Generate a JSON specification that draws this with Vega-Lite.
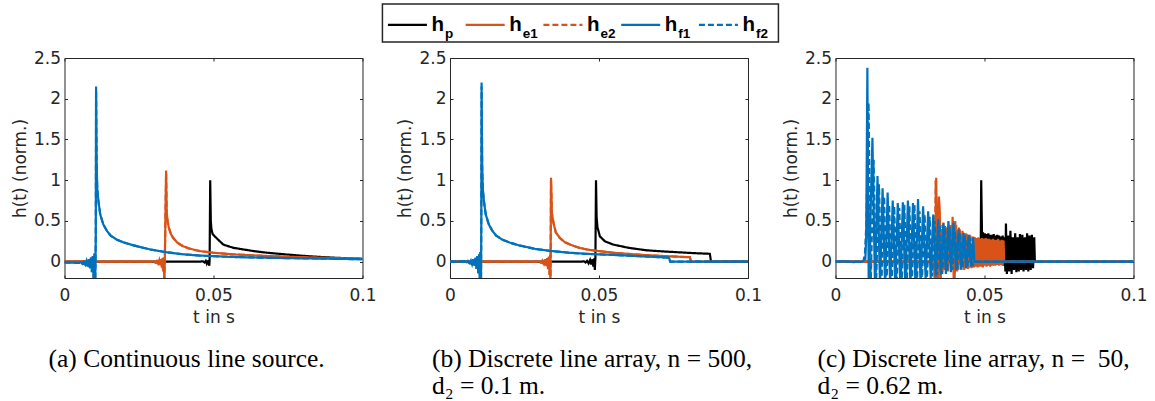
{
  "$schema": "https://vega.github.io/schema/vega-lite/v6.json",
  "background": "white",
  "padding": {"left": 10, "top": 3, "right": 0, "bottom": 0},
  "datasets": {
    "legend": [
      {"series": "hp", "sub": "p"},
      {"series": "he1", "sub": "e1"},
      {"series": "he2", "sub": "e2"},
      {"series": "hf1", "sub": "f1"},
      {"series": "hf2", "sub": "f2"}
    ],
    "curves": [
      {"panel":"a","series":"hp","t":0,"h":0},{"panel":"a","series":"hp","t":0.03,"h":0},{"panel":"a","series":"hp","t":0.045,"h":0},{"panel":"a","series":"hp","t":0.0465,"h":0.005},{"panel":"a","series":"hp","t":0.047,"h":-0.01},{"panel":"a","series":"hp","t":0.0474,"h":0.01},{"panel":"a","series":"hp","t":0.0477,"h":-0.02},{"panel":"a","series":"hp","t":0.048,"h":0.015},{"panel":"a","series":"hp","t":0.0482,"h":-0.035},{"panel":"a","series":"hp","t":0.0484,"h":0.02},{"panel":"a","series":"hp","t":0.0486,"h":-0.05},{"panel":"a","series":"hp","t":0.0487,"h":0.02},{"panel":"a","series":"hp","t":0.0489,"h":1.0},{"panel":"a","series":"hp","t":0.0491,"h":0.5},{"panel":"a","series":"hp","t":0.0493,"h":0.4},{"panel":"a","series":"hp","t":0.0497,"h":0.34},{"panel":"a","series":"hp","t":0.051,"h":0.29},{"panel":"a","series":"hp","t":0.0533,"h":0.21},{"panel":"a","series":"hp","t":0.0567,"h":0.17},{"panel":"a","series":"hp","t":0.0635,"h":0.13},{"panel":"a","series":"hp","t":0.068,"h":0.11},{"panel":"a","series":"hp","t":0.074,"h":0.09},{"panel":"a","series":"hp","t":0.079,"h":0.075},{"panel":"a","series":"hp","t":0.085,"h":0.06},{"panel":"a","series":"hp","t":0.09,"h":0.05},{"panel":"a","series":"hp","t":0.095,"h":0.042},{"panel":"a","series":"hp","t":0.1,"h":0.035},
      {"panel":"a","series":"he1","t":0,"h":0},{"panel":"a","series":"he1","t":0.029,"h":0},{"panel":"a","series":"he1","t":0.03,"h":0.005},{"panel":"a","series":"he1","t":0.0305,"h":-0.01},{"panel":"a","series":"he1","t":0.031,"h":0.01},{"panel":"a","series":"he1","t":0.0314,"h":-0.02},{"panel":"a","series":"he1","t":0.0318,"h":0.02},{"panel":"a","series":"he1","t":0.0321,"h":-0.04},{"panel":"a","series":"he1","t":0.0324,"h":0.03},{"panel":"a","series":"he1","t":0.0327,"h":-0.07},{"panel":"a","series":"he1","t":0.0329,"h":0.04},{"panel":"a","series":"he1","t":0.0331,"h":-0.12},{"panel":"a","series":"he1","t":0.0333,"h":0.05},{"panel":"a","series":"he1","t":0.0335,"h":-0.25},{"panel":"a","series":"he1","t":0.0337,"h":0.1},{"panel":"a","series":"he1","t":0.0341,"h":1.12},{"panel":"a","series":"he1","t":0.0343,"h":0.6},{"panel":"a","series":"he1","t":0.0346,"h":0.5},{"panel":"a","series":"he1","t":0.035,"h":0.42},{"panel":"a","series":"he1","t":0.0357,"h":0.34},{"panel":"a","series":"he1","t":0.0365,"h":0.29},{"panel":"a","series":"he1","t":0.038,"h":0.23},{"panel":"a","series":"he1","t":0.0398,"h":0.19},{"panel":"a","series":"he1","t":0.042,"h":0.16},{"panel":"a","series":"he1","t":0.0454,"h":0.13},{"panel":"a","series":"he1","t":0.05,"h":0.11},{"panel":"a","series":"he1","t":0.0567,"h":0.09},{"panel":"a","series":"he1","t":0.063,"h":0.078},{"panel":"a","series":"he1","t":0.068,"h":0.07},{"panel":"a","series":"he1","t":0.075,"h":0.06},{"panel":"a","series":"he1","t":0.082,"h":0.052},{"panel":"a","series":"he1","t":0.09,"h":0.044},{"panel":"a","series":"he1","t":0.1,"h":0.035},
      {"panel":"a","series":"he2","t":0,"h":0},{"panel":"a","series":"he2","t":0.029,"h":0},{"panel":"a","series":"he2","t":0.0305,"h":-0.01},{"panel":"a","series":"he2","t":0.0314,"h":-0.02},{"panel":"a","series":"he2","t":0.0321,"h":-0.04},{"panel":"a","series":"he2","t":0.0324,"h":0.03},{"panel":"a","series":"he2","t":0.0327,"h":-0.07},{"panel":"a","series":"he2","t":0.0329,"h":0.04},{"panel":"a","series":"he2","t":0.0331,"h":-0.12},{"panel":"a","series":"he2","t":0.0333,"h":0.05},{"panel":"a","series":"he2","t":0.0335,"h":-0.25},{"panel":"a","series":"he2","t":0.0337,"h":0.1},{"panel":"a","series":"he2","t":0.0341,"h":1.08},{"panel":"a","series":"he2","t":0.0343,"h":0.58},{"panel":"a","series":"he2","t":0.0346,"h":0.5},{"panel":"a","series":"he2","t":0.035,"h":0.42},{"panel":"a","series":"he2","t":0.0357,"h":0.34},{"panel":"a","series":"he2","t":0.0365,"h":0.29},{"panel":"a","series":"he2","t":0.038,"h":0.23},{"panel":"a","series":"he2","t":0.0398,"h":0.19},{"panel":"a","series":"he2","t":0.042,"h":0.16},{"panel":"a","series":"he2","t":0.0454,"h":0.13},{"panel":"a","series":"he2","t":0.05,"h":0.11},{"panel":"a","series":"he2","t":0.0567,"h":0.09},{"panel":"a","series":"he2","t":0.068,"h":0.07},{"panel":"a","series":"he2","t":0.082,"h":0.052},{"panel":"a","series":"he2","t":0.1,"h":0.035},
      {"panel":"a","series":"hf1","t":0,"h":-0.01},{"panel":"a","series":"hf1","t":0.003,"h":-0.012},{"panel":"a","series":"hf1","t":0.005,"h":-0.015},{"panel":"a","series":"hf1","t":0.0055,"h":-0.005},{"panel":"a","series":"hf1","t":0.006,"h":-0.025},{"panel":"a","series":"hf1","t":0.0065,"h":0},{"panel":"a","series":"hf1","t":0.007,"h":-0.035},{"panel":"a","series":"hf1","t":0.0074,"h":0.01},{"panel":"a","series":"hf1","t":0.0078,"h":-0.05},{"panel":"a","series":"hf1","t":0.0082,"h":0.03},{"panel":"a","series":"hf1","t":0.0086,"h":-0.08},{"panel":"a","series":"hf1","t":0.0089,"h":0.05},{"panel":"a","series":"hf1","t":0.0092,"h":-0.13},{"panel":"a","series":"hf1","t":0.0095,"h":0.07},{"panel":"a","series":"hf1","t":0.0098,"h":-0.22},{"panel":"a","series":"hf1","t":0.0101,"h":0.1},{"panel":"a","series":"hf1","t":0.0103,"h":-0.3},{"panel":"a","series":"hf1","t":0.0105,"h":0.3},{"panel":"a","series":"hf1","t":0.0106,"h":2.15},{"panel":"a","series":"hf1","t":0.0108,"h":1.2},{"panel":"a","series":"hf1","t":0.011,"h":0.9},{"panel":"a","series":"hf1","t":0.0114,"h":0.74},{"panel":"a","series":"hf1","t":0.012,"h":0.58},{"panel":"a","series":"hf1","t":0.013,"h":0.46},{"panel":"a","series":"hf1","t":0.0142,"h":0.38},{"panel":"a","series":"hf1","t":0.0155,"h":0.32},{"panel":"a","series":"hf1","t":0.0176,"h":0.27},{"panel":"a","series":"hf1","t":0.02,"h":0.235},{"panel":"a","series":"hf1","t":0.0232,"h":0.2},{"panel":"a","series":"hf1","t":0.026,"h":0.175},{"panel":"a","series":"hf1","t":0.0288,"h":0.15},{"panel":"a","series":"hf1","t":0.0344,"h":0.115},{"panel":"a","series":"hf1","t":0.04,"h":0.09},{"panel":"a","series":"hf1","t":0.0455,"h":0.075},{"panel":"a","series":"hf1","t":0.0567,"h":0.058},{"panel":"a","series":"hf1","t":0.068,"h":0.048},{"panel":"a","series":"hf1","t":0.079,"h":0.042},{"panel":"a","series":"hf1","t":0.09,"h":0.036},{"panel":"a","series":"hf1","t":0.1,"h":0.03},
      {"panel":"a","series":"hf2","t":0,"h":-0.01},{"panel":"a","series":"hf2","t":0.005,"h":-0.015},{"panel":"a","series":"hf2","t":0.006,"h":-0.025},{"panel":"a","series":"hf2","t":0.007,"h":-0.035},{"panel":"a","series":"hf2","t":0.0078,"h":-0.05},{"panel":"a","series":"hf2","t":0.0082,"h":0.03},{"panel":"a","series":"hf2","t":0.0086,"h":-0.08},{"panel":"a","series":"hf2","t":0.0089,"h":0.05},{"panel":"a","series":"hf2","t":0.0092,"h":-0.13},{"panel":"a","series":"hf2","t":0.0095,"h":0.07},{"panel":"a","series":"hf2","t":0.0098,"h":-0.22},{"panel":"a","series":"hf2","t":0.0101,"h":0.1},{"panel":"a","series":"hf2","t":0.0103,"h":-0.3},{"panel":"a","series":"hf2","t":0.0105,"h":0.3},{"panel":"a","series":"hf2","t":0.0106,"h":2.1},{"panel":"a","series":"hf2","t":0.0108,"h":1.15},{"panel":"a","series":"hf2","t":0.011,"h":0.88},{"panel":"a","series":"hf2","t":0.0114,"h":0.74},{"panel":"a","series":"hf2","t":0.012,"h":0.58},{"panel":"a","series":"hf2","t":0.013,"h":0.46},{"panel":"a","series":"hf2","t":0.0142,"h":0.38},{"panel":"a","series":"hf2","t":0.0155,"h":0.32},{"panel":"a","series":"hf2","t":0.0176,"h":0.27},{"panel":"a","series":"hf2","t":0.02,"h":0.235},{"panel":"a","series":"hf2","t":0.0232,"h":0.2},{"panel":"a","series":"hf2","t":0.026,"h":0.175},{"panel":"a","series":"hf2","t":0.0288,"h":0.15},{"panel":"a","series":"hf2","t":0.0344,"h":0.115},{"panel":"a","series":"hf2","t":0.04,"h":0.09},{"panel":"a","series":"hf2","t":0.0455,"h":0.075},{"panel":"a","series":"hf2","t":0.0567,"h":0.058},{"panel":"a","series":"hf2","t":0.068,"h":0.048},{"panel":"a","series":"hf2","t":0.079,"h":0.042},{"panel":"a","series":"hf2","t":0.09,"h":0.036},{"panel":"a","series":"hf2","t":0.1,"h":0.03},

      {"panel":"b","series":"hp","t":0,"h":0},{"panel":"b","series":"hp","t":0.03,"h":0},{"panel":"b","series":"hp","t":0.044,"h":0},{"panel":"b","series":"hp","t":0.045,"h":0.005},{"panel":"b","series":"hp","t":0.0455,"h":-0.01},{"panel":"b","series":"hp","t":0.046,"h":0.01},{"panel":"b","series":"hp","t":0.0465,"h":-0.02},{"panel":"b","series":"hp","t":0.047,"h":0.02},{"panel":"b","series":"hp","t":0.0474,"h":-0.035},{"panel":"b","series":"hp","t":0.0478,"h":0.03},{"panel":"b","series":"hp","t":0.0481,"h":-0.06},{"panel":"b","series":"hp","t":0.0484,"h":0.04},{"panel":"b","series":"hp","t":0.0486,"h":-0.1},{"panel":"b","series":"hp","t":0.0488,"h":0.05},{"panel":"b","series":"hp","t":0.049,"h":1.0},{"panel":"b","series":"hp","t":0.0492,"h":0.55},{"panel":"b","series":"hp","t":0.0495,"h":0.42},{"panel":"b","series":"hp","t":0.0498,"h":0.38},{"panel":"b","series":"hp","t":0.0503,"h":0.31},{"panel":"b","series":"hp","t":0.052,"h":0.25},{"panel":"b","series":"hp","t":0.0548,"h":0.21},{"panel":"b","series":"hp","t":0.06,"h":0.17},{"panel":"b","series":"hp","t":0.0659,"h":0.14},{"panel":"b","series":"hp","t":0.072,"h":0.125},{"panel":"b","series":"hp","t":0.077,"h":0.115},{"panel":"b","series":"hp","t":0.082,"h":0.105},{"panel":"b","series":"hp","t":0.0872,"h":0.097},{"panel":"b","series":"hp","t":0.0876,"h":0},{"panel":"b","series":"hp","t":0.1,"h":0},
      {"panel":"b","series":"he1","t":0,"h":0},{"panel":"b","series":"he1","t":0.029,"h":0},{"panel":"b","series":"he1","t":0.03,"h":0.005},{"panel":"b","series":"he1","t":0.0305,"h":-0.01},{"panel":"b","series":"he1","t":0.031,"h":0.015},{"panel":"b","series":"he1","t":0.0315,"h":-0.025},{"panel":"b","series":"he1","t":0.0319,"h":0.03},{"panel":"b","series":"he1","t":0.0323,"h":-0.05},{"panel":"b","series":"he1","t":0.0326,"h":0.045},{"panel":"b","series":"he1","t":0.0329,"h":-0.09},{"panel":"b","series":"he1","t":0.0332,"h":0.06},{"panel":"b","series":"he1","t":0.0334,"h":-0.16},{"panel":"b","series":"he1","t":0.0336,"h":0.08},{"panel":"b","series":"he1","t":0.0337,"h":-0.3},{"panel":"b","series":"he1","t":0.0338,"h":0.2},{"panel":"b","series":"he1","t":0.0339,"h":1.03},{"panel":"b","series":"he1","t":0.0342,"h":0.6},{"panel":"b","series":"he1","t":0.0347,"h":0.48},{"panel":"b","series":"he1","t":0.0355,"h":0.36},{"panel":"b","series":"he1","t":0.0369,"h":0.29},{"panel":"b","series":"he1","t":0.0385,"h":0.24},{"panel":"b","series":"he1","t":0.0403,"h":0.21},{"panel":"b","series":"he1","t":0.043,"h":0.175},{"panel":"b","series":"he1","t":0.0459,"h":0.15},{"panel":"b","series":"he1","t":0.05,"h":0.13},{"panel":"b","series":"he1","t":0.0548,"h":0.11},{"panel":"b","series":"he1","t":0.06,"h":0.095},{"panel":"b","series":"he1","t":0.066,"h":0.08},{"panel":"b","series":"he1","t":0.0715,"h":0.07},{"panel":"b","series":"he1","t":0.0772,"h":0.06},{"panel":"b","series":"he1","t":0.0805,"h":0.055},{"panel":"b","series":"he1","t":0.0809,"h":0},{"panel":"b","series":"he1","t":0.1,"h":0},
      {"panel":"b","series":"he2","t":0,"h":0},{"panel":"b","series":"he2","t":0.029,"h":0},{"panel":"b","series":"he2","t":0.0305,"h":-0.01},{"panel":"b","series":"he2","t":0.0315,"h":-0.025},{"panel":"b","series":"he2","t":0.0323,"h":-0.05},{"panel":"b","series":"he2","t":0.0326,"h":0.045},{"panel":"b","series":"he2","t":0.0329,"h":-0.09},{"panel":"b","series":"he2","t":0.0332,"h":0.06},{"panel":"b","series":"he2","t":0.0334,"h":-0.16},{"panel":"b","series":"he2","t":0.0336,"h":0.08},{"panel":"b","series":"he2","t":0.0337,"h":-0.3},{"panel":"b","series":"he2","t":0.0338,"h":0.2},{"panel":"b","series":"he2","t":0.0339,"h":1.0},{"panel":"b","series":"he2","t":0.0342,"h":0.58},{"panel":"b","series":"he2","t":0.0347,"h":0.48},{"panel":"b","series":"he2","t":0.0355,"h":0.36},{"panel":"b","series":"he2","t":0.0369,"h":0.29},{"panel":"b","series":"he2","t":0.0385,"h":0.24},{"panel":"b","series":"he2","t":0.0403,"h":0.21},{"panel":"b","series":"he2","t":0.043,"h":0.175},{"panel":"b","series":"he2","t":0.0459,"h":0.15},{"panel":"b","series":"he2","t":0.05,"h":0.13},{"panel":"b","series":"he2","t":0.0548,"h":0.11},{"panel":"b","series":"he2","t":0.06,"h":0.095},{"panel":"b","series":"he2","t":0.066,"h":0.08},{"panel":"b","series":"he2","t":0.0715,"h":0.07},{"panel":"b","series":"he2","t":0.0772,"h":0.06},{"panel":"b","series":"he2","t":0.0805,"h":0.055},{"panel":"b","series":"he2","t":0.0809,"h":0},{"panel":"b","series":"he2","t":0.1,"h":0},
      {"panel":"b","series":"hf1","t":0,"h":0},{"panel":"b","series":"hf1","t":0.004,"h":0},{"panel":"b","series":"hf1","t":0.005,"h":0.005},{"panel":"b","series":"hf1","t":0.0055,"h":-0.005},{"panel":"b","series":"hf1","t":0.006,"h":0.01},{"panel":"b","series":"hf1","t":0.0065,"h":-0.015},{"panel":"b","series":"hf1","t":0.007,"h":0.015},{"panel":"b","series":"hf1","t":0.0074,"h":-0.03},{"panel":"b","series":"hf1","t":0.0078,"h":0.03},{"panel":"b","series":"hf1","t":0.0082,"h":-0.05},{"panel":"b","series":"hf1","t":0.0086,"h":0.05},{"panel":"b","series":"hf1","t":0.0089,"h":-0.09},{"panel":"b","series":"hf1","t":0.0092,"h":0.07},{"panel":"b","series":"hf1","t":0.0095,"h":-0.14},{"panel":"b","series":"hf1","t":0.0098,"h":0.09},{"panel":"b","series":"hf1","t":0.01,"h":-0.22},{"panel":"b","series":"hf1","t":0.0102,"h":0.12},{"panel":"b","series":"hf1","t":0.0104,"h":-0.3},{"panel":"b","series":"hf1","t":0.0105,"h":0.4},{"panel":"b","series":"hf1","t":0.0106,"h":2.2},{"panel":"b","series":"hf1","t":0.0108,"h":1.2},{"panel":"b","series":"hf1","t":0.011,"h":0.9},{"panel":"b","series":"hf1","t":0.0114,"h":0.74},{"panel":"b","series":"hf1","t":0.012,"h":0.58},{"panel":"b","series":"hf1","t":0.013,"h":0.46},{"panel":"b","series":"hf1","t":0.0142,"h":0.38},{"panel":"b","series":"hf1","t":0.0155,"h":0.32},{"panel":"b","series":"hf1","t":0.0176,"h":0.27},{"panel":"b","series":"hf1","t":0.02,"h":0.235},{"panel":"b","series":"hf1","t":0.0232,"h":0.2},{"panel":"b","series":"hf1","t":0.026,"h":0.178},{"panel":"b","series":"hf1","t":0.0288,"h":0.155},{"panel":"b","series":"hf1","t":0.0344,"h":0.13},{"panel":"b","series":"hf1","t":0.04,"h":0.11},{"panel":"b","series":"hf1","t":0.0455,"h":0.097},{"panel":"b","series":"hf1","t":0.0548,"h":0.083},{"panel":"b","series":"hf1","t":0.065,"h":0.065},{"panel":"b","series":"hf1","t":0.0735,"h":0.05},{"panel":"b","series":"hf1","t":0.0739,"h":0},{"panel":"b","series":"hf1","t":0.1,"h":0},
      {"panel":"b","series":"hf2","t":0,"h":0},{"panel":"b","series":"hf2","t":0.005,"h":0.005},{"panel":"b","series":"hf2","t":0.0065,"h":-0.015},{"panel":"b","series":"hf2","t":0.0074,"h":-0.03},{"panel":"b","series":"hf2","t":0.0078,"h":0.03},{"panel":"b","series":"hf2","t":0.0082,"h":-0.05},{"panel":"b","series":"hf2","t":0.0086,"h":0.05},{"panel":"b","series":"hf2","t":0.0089,"h":-0.09},{"panel":"b","series":"hf2","t":0.0092,"h":0.07},{"panel":"b","series":"hf2","t":0.0095,"h":-0.14},{"panel":"b","series":"hf2","t":0.0098,"h":0.09},{"panel":"b","series":"hf2","t":0.01,"h":-0.22},{"panel":"b","series":"hf2","t":0.0102,"h":0.12},{"panel":"b","series":"hf2","t":0.0104,"h":-0.3},{"panel":"b","series":"hf2","t":0.0105,"h":0.4},{"panel":"b","series":"hf2","t":0.0106,"h":2.15},{"panel":"b","series":"hf2","t":0.0108,"h":1.15},{"panel":"b","series":"hf2","t":0.011,"h":0.88},{"panel":"b","series":"hf2","t":0.0114,"h":0.74},{"panel":"b","series":"hf2","t":0.012,"h":0.58},{"panel":"b","series":"hf2","t":0.013,"h":0.46},{"panel":"b","series":"hf2","t":0.0142,"h":0.38},{"panel":"b","series":"hf2","t":0.0155,"h":0.32},{"panel":"b","series":"hf2","t":0.0176,"h":0.27},{"panel":"b","series":"hf2","t":0.02,"h":0.235},{"panel":"b","series":"hf2","t":0.0232,"h":0.2},{"panel":"b","series":"hf2","t":0.026,"h":0.178},{"panel":"b","series":"hf2","t":0.0288,"h":0.155},{"panel":"b","series":"hf2","t":0.0344,"h":0.13},{"panel":"b","series":"hf2","t":0.04,"h":0.11},{"panel":"b","series":"hf2","t":0.0455,"h":0.097},{"panel":"b","series":"hf2","t":0.0548,"h":0.083},{"panel":"b","series":"hf2","t":0.065,"h":0.065},{"panel":"b","series":"hf2","t":0.0735,"h":0.05},{"panel":"b","series":"hf2","t":0.0739,"h":0},{"panel":"b","series":"hf2","t":0.1,"h":0},

      {"panel":"c","series":"hp","t":0,"h":0},{"panel":"c","series":"hp","t":0.04,"h":0},{"panel":"c","series":"hp","t":0.048,"h":0},{"panel":"c","series":"hp","t":0.0484,"h":0.03},{"panel":"c","series":"hp","t":0.0487,"h":-0.03},{"panel":"c","series":"hp","t":0.0489,"h":1.0},{"panel":"c","series":"hp","t":0.0492,"h":0.25},{"panel":"c","series":"hp","t":0.0495,"h":0.36},{"panel":"c","series":"hp","t":0.0498,"h":0.05},{"panel":"c","series":"hp","t":0.0501,"h":0.35},{"panel":"c","series":"hp","t":0.0504,"h":0.05},{"panel":"c","series":"hp","t":0.0507,"h":0.34},{"panel":"c","series":"hp","t":0.051,"h":0.05},{"panel":"c","series":"hp","t":0.0513,"h":0.35},{"panel":"c","series":"hp","t":0.0516,"h":0.05},{"panel":"c","series":"hp","t":0.0519,"h":0.33},{"panel":"c","series":"hp","t":0.0522,"h":0.04},{"panel":"c","series":"hp","t":0.0525,"h":0.33},{"panel":"c","series":"hp","t":0.0528,"h":0.04},{"panel":"c","series":"hp","t":0.0531,"h":0.34},{"panel":"c","series":"hp","t":0.0534,"h":0.03},{"panel":"c","series":"hp","t":0.0537,"h":0.32},{"panel":"c","series":"hp","t":0.054,"h":0.03},{"panel":"c","series":"hp","t":0.0543,"h":0.33},{"panel":"c","series":"hp","t":0.0546,"h":0.02},{"panel":"c","series":"hp","t":0.0549,"h":0.32},{"panel":"c","series":"hp","t":0.0552,"h":0},{"panel":"c","series":"hp","t":0.0555,"h":0.31},{"panel":"c","series":"hp","t":0.0558,"h":-0.02},{"panel":"c","series":"hp","t":0.0561,"h":0.32},{"panel":"c","series":"hp","t":0.0564,"h":-0.05},{"panel":"c","series":"hp","t":0.0567,"h":0.3},{"panel":"c","series":"hp","t":0.057,"h":-0.12},{"panel":"c","series":"hp","t":0.0572,"h":0.47},{"panel":"c","series":"hp","t":0.0575,"h":-0.15},{"panel":"c","series":"hp","t":0.0579,"h":0.32},{"panel":"c","series":"hp","t":0.0583,"h":-0.12},{"panel":"c","series":"hp","t":0.0587,"h":0.38},{"panel":"c","series":"hp","t":0.0591,"h":-0.15},{"panel":"c","series":"hp","t":0.0595,"h":0.3},{"panel":"c","series":"hp","t":0.0599,"h":-0.1},{"panel":"c","series":"hp","t":0.0603,"h":0.35},{"panel":"c","series":"hp","t":0.0607,"h":-0.13},{"panel":"c","series":"hp","t":0.0611,"h":0.3},{"panel":"c","series":"hp","t":0.0615,"h":-0.12},{"panel":"c","series":"hp","t":0.0619,"h":0.34},{"panel":"c","series":"hp","t":0.0623,"h":-0.1},{"panel":"c","series":"hp","t":0.0627,"h":0.33},{"panel":"c","series":"hp","t":0.0631,"h":-0.12},{"panel":"c","series":"hp","t":0.0635,"h":0.3},{"panel":"c","series":"hp","t":0.0639,"h":-0.1},{"panel":"c","series":"hp","t":0.0643,"h":0.35},{"panel":"c","series":"hp","t":0.0647,"h":-0.12},{"panel":"c","series":"hp","t":0.0651,"h":0.32},{"panel":"c","series":"hp","t":0.0655,"h":-0.1},{"panel":"c","series":"hp","t":0.0659,"h":0.33},{"panel":"c","series":"hp","t":0.0663,"h":-0.08},{"panel":"c","series":"hp","t":0.0667,"h":0.3},{"panel":"c","series":"hp","t":0.0669,"h":0},{"panel":"c","series":"hp","t":0.1,"h":0},
      {"panel":"c","series":"he1","t":0,"h":0},{"panel":"c","series":"he1","t":0.031,"h":0},{"panel":"c","series":"he1","t":0.032,"h":0.005},{"panel":"c","series":"he1","t":0.0326,"h":-0.02},{"panel":"c","series":"he1","t":0.033,"h":0.05},{"panel":"c","series":"he1","t":0.0333,"h":-0.3},{"panel":"c","series":"he1","t":0.0336,"h":0.3},{"panel":"c","series":"he1","t":0.0338,"h":1.03},{"panel":"c","series":"he1","t":0.0341,"h":0.2},{"panel":"c","series":"he1","t":0.0344,"h":-0.3},{"panel":"c","series":"he1","t":0.0347,"h":0.8},{"panel":"c","series":"he1","t":0.035,"h":0.62},{"panel":"c","series":"he1","t":0.0353,"h":-0.2},{"panel":"c","series":"he1","t":0.0356,"h":0.4},{"panel":"c","series":"he1","t":0.0359,"h":-0.12},{"panel":"c","series":"he1","t":0.0362,"h":0.48},{"panel":"c","series":"he1","t":0.0366,"h":-0.1},{"panel":"c","series":"he1","t":0.037,"h":0.38},{"panel":"c","series":"he1","t":0.0374,"h":0.42},{"panel":"c","series":"he1","t":0.0378,"h":-0.12},{"panel":"c","series":"he1","t":0.0382,"h":0.35},{"panel":"c","series":"he1","t":0.0386,"h":0.45},{"panel":"c","series":"he1","t":0.0389,"h":-0.05},{"panel":"c","series":"he1","t":0.0393,"h":0.55},{"panel":"c","series":"he1","t":0.0397,"h":-0.3},{"panel":"c","series":"he1","t":0.0402,"h":0.5},{"panel":"c","series":"he1","t":0.0408,"h":-0.12},{"panel":"c","series":"he1","t":0.0414,"h":0.42},{"panel":"c","series":"he1","t":0.042,"h":-0.1},{"panel":"c","series":"he1","t":0.0426,"h":0.38},{"panel":"c","series":"he1","t":0.0432,"h":-0.1},{"panel":"c","series":"he1","t":0.0438,"h":0.35},{"panel":"c","series":"he1","t":0.0444,"h":-0.09},{"panel":"c","series":"he1","t":0.045,"h":0.33},{"panel":"c","series":"he1","t":0.0456,"h":-0.08},{"panel":"c","series":"he1","t":0.0462,"h":0.31},{"panel":"c","series":"he1","t":0.0465,"h":-0.07},{"panel":"c","series":"he1","t":0.0468,"h":0.3},{"panel":"c","series":"he1","t":0.0471,"h":-0.06},{"panel":"c","series":"he1","t":0.0474,"h":0.29},{"panel":"c","series":"he1","t":0.0477,"h":-0.07},{"panel":"c","series":"he1","t":0.048,"h":0.3},{"panel":"c","series":"he1","t":0.0483,"h":-0.06},{"panel":"c","series":"he1","t":0.0486,"h":0.28},{"panel":"c","series":"he1","t":0.0489,"h":-0.06},{"panel":"c","series":"he1","t":0.0492,"h":0.29},{"panel":"c","series":"he1","t":0.0495,"h":-0.07},{"panel":"c","series":"he1","t":0.0498,"h":0.28},{"panel":"c","series":"he1","t":0.0501,"h":-0.05},{"panel":"c","series":"he1","t":0.0504,"h":0.29},{"panel":"c","series":"he1","t":0.0507,"h":-0.06},{"panel":"c","series":"he1","t":0.051,"h":0.28},{"panel":"c","series":"he1","t":0.0513,"h":-0.05},{"panel":"c","series":"he1","t":0.0516,"h":0.28},{"panel":"c","series":"he1","t":0.0519,"h":-0.06},{"panel":"c","series":"he1","t":0.0522,"h":0.27},{"panel":"c","series":"he1","t":0.0525,"h":-0.05},{"panel":"c","series":"he1","t":0.0528,"h":0.28},{"panel":"c","series":"he1","t":0.0531,"h":-0.05},{"panel":"c","series":"he1","t":0.0534,"h":0.27},{"panel":"c","series":"he1","t":0.0537,"h":-0.05},{"panel":"c","series":"he1","t":0.054,"h":0.27},{"panel":"c","series":"he1","t":0.0543,"h":-0.04},{"panel":"c","series":"he1","t":0.0546,"h":0.28},{"panel":"c","series":"he1","t":0.0549,"h":-0.05},{"panel":"c","series":"he1","t":0.0552,"h":0.26},{"panel":"c","series":"he1","t":0.0555,"h":-0.04},{"panel":"c","series":"he1","t":0.0558,"h":0.27},{"panel":"c","series":"he1","t":0.0561,"h":-0.05},{"panel":"c","series":"he1","t":0.0564,"h":0.26},{"panel":"c","series":"he1","t":0.0566,"h":0},{"panel":"c","series":"he1","t":0.1,"h":0},
      {"panel":"c","series":"he2","t":0,"h":0},{"panel":"c","series":"he2","t":0.032,"h":0},{"panel":"c","series":"he2","t":0.0333,"h":-0.1},{"panel":"c","series":"he2","t":0.0336,"h":1.0},{"panel":"c","series":"he2","t":0.034,"h":-0.3},{"panel":"c","series":"he2","t":0.0347,"h":0.75},{"panel":"c","series":"he2","t":0.0352,"h":-0.2},{"panel":"c","series":"he2","t":0.0359,"h":0.45},{"panel":"c","series":"he2","t":0.0365,"h":-0.1},{"panel":"c","series":"he2","t":0.0371,"h":0.4},{"panel":"c","series":"he2","t":0.0377,"h":-0.1},{"panel":"c","series":"he2","t":0.0383,"h":0.42},{"panel":"c","series":"he2","t":0.0389,"h":-0.1},{"panel":"c","series":"he2","t":0.0395,"h":0.5},{"panel":"c","series":"he2","t":0.04,"h":-0.2},{"panel":"c","series":"he2","t":0.0405,"h":0.45},{"panel":"c","series":"he2","t":0.0411,"h":-0.1},{"panel":"c","series":"he2","t":0.0417,"h":0.4},{"panel":"c","series":"he2","t":0.0423,"h":-0.1},{"panel":"c","series":"he2","t":0.0429,"h":0.36},{"panel":"c","series":"he2","t":0.0435,"h":-0.09},{"panel":"c","series":"he2","t":0.0441,"h":0.34},{"panel":"c","series":"he2","t":0.0447,"h":-0.08},{"panel":"c","series":"he2","t":0.0453,"h":0.32},{"panel":"c","series":"he2","t":0.0459,"h":-0.07},{"panel":"c","series":"he2","t":0.0465,"h":0.3},{"panel":"c","series":"he2","t":0.047,"h":-0.05},{"panel":"c","series":"he2","t":0.0476,"h":0.28},{"panel":"c","series":"he2","t":0.0482,"h":-0.05},{"panel":"c","series":"he2","t":0.0488,"h":0.28},{"panel":"c","series":"he2","t":0.0494,"h":-0.05},{"panel":"c","series":"he2","t":0.05,"h":0.27},{"panel":"c","series":"he2","t":0.0506,"h":-0.05},{"panel":"c","series":"he2","t":0.0512,"h":0.27},{"panel":"c","series":"he2","t":0.0518,"h":-0.05},{"panel":"c","series":"he2","t":0.0524,"h":0.27},{"panel":"c","series":"he2","t":0.053,"h":-0.04},{"panel":"c","series":"he2","t":0.0536,"h":0.26},{"panel":"c","series":"he2","t":0.0542,"h":-0.04},{"panel":"c","series":"he2","t":0.0548,"h":0.26},{"panel":"c","series":"he2","t":0.0554,"h":-0.04},{"panel":"c","series":"he2","t":0.056,"h":0.26},{"panel":"c","series":"he2","t":0.0566,"h":0},{"panel":"c","series":"he2","t":0.1,"h":0},
      {"panel":"c","series":"hf1","t":0,"h":0},{"panel":"c","series":"hf1","t":0.003,"h":0.005},{"panel":"c","series":"hf1","t":0.006,"h":-0.005},{"panel":"c","series":"hf1","t":0.009,"h":0},{"panel":"c","series":"hf1","t":0.0094,"h":0.01},{"panel":"c","series":"hf1","t":0.0097,"h":0.06},{"panel":"c","series":"hf1","t":0.01,"h":0.02},{"panel":"c","series":"hf1","t":0.0103,"h":0.3},{"panel":"c","series":"hf1","t":0.0107,"h":2.38},{"panel":"c","series":"hf1","t":0.01115,"h":-0.3},{"panel":"c","series":"hf1","t":0.0124,"h":1.52},{"panel":"c","series":"hf1","t":0.01325,"h":-0.3},{"panel":"c","series":"hf1","t":0.0141,"h":1.05},{"panel":"c","series":"hf1","t":0.01495,"h":-0.3},{"panel":"c","series":"hf1","t":0.0158,"h":0.9},{"panel":"c","series":"hf1","t":0.01665,"h":-0.3},{"panel":"c","series":"hf1","t":0.0175,"h":0.85},{"panel":"c","series":"hf1","t":0.01835,"h":-0.3},{"panel":"c","series":"hf1","t":0.0192,"h":0.75},{"panel":"c","series":"hf1","t":0.02005,"h":-0.3},{"panel":"c","series":"hf1","t":0.0209,"h":0.72},{"panel":"c","series":"hf1","t":0.02175,"h":-0.3},{"panel":"c","series":"hf1","t":0.0226,"h":0.73},{"panel":"c","series":"hf1","t":0.02345,"h":-0.3},{"panel":"c","series":"hf1","t":0.0243,"h":0.75},{"panel":"c","series":"hf1","t":0.02515,"h":-0.3},{"panel":"c","series":"hf1","t":0.026,"h":0.72},{"panel":"c","series":"hf1","t":0.02685,"h":-0.3},{"panel":"c","series":"hf1","t":0.0277,"h":0.77},{"panel":"c","series":"hf1","t":0.02855,"h":-0.28},{"panel":"c","series":"hf1","t":0.0294,"h":0.68},{"panel":"c","series":"hf1","t":0.03025,"h":-0.22},{"panel":"c","series":"hf1","t":0.0311,"h":0.62},{"panel":"c","series":"hf1","t":0.03195,"h":-0.2},{"panel":"c","series":"hf1","t":0.0328,"h":0.58},{"panel":"c","series":"hf1","t":0.03365,"h":-0.18},{"panel":"c","series":"hf1","t":0.0345,"h":0.52},{"panel":"c","series":"hf1","t":0.03535,"h":-0.16},{"panel":"c","series":"hf1","t":0.0362,"h":0.47},{"panel":"c","series":"hf1","t":0.03705,"h":-0.15},{"panel":"c","series":"hf1","t":0.0379,"h":0.5},{"panel":"c","series":"hf1","t":0.03875,"h":-0.13},{"panel":"c","series":"hf1","t":0.0396,"h":0.48},{"panel":"c","series":"hf1","t":0.04045,"h":-0.1},{"panel":"c","series":"hf1","t":0.0413,"h":0.4},{"panel":"c","series":"hf1","t":0.04215,"h":-0.09},{"panel":"c","series":"hf1","t":0.043,"h":0.35},{"panel":"c","series":"hf1","t":0.04385,"h":-0.08},{"panel":"c","series":"hf1","t":0.0447,"h":0.33},{"panel":"c","series":"hf1","t":0.04545,"h":-0.06},{"panel":"c","series":"hf1","t":0.0462,"h":0.3},{"panel":"c","series":"hf1","t":0.0466,"h":0},{"panel":"c","series":"hf1","t":0.07,"h":0},{"panel":"c","series":"hf1","t":0.1,"h":0},
      {"panel":"c","series":"hf2","t":0,"h":0},{"panel":"c","series":"hf2","t":0.009,"h":0},{"panel":"c","series":"hf2","t":0.0098,"h":0.03},{"panel":"c","series":"hf2","t":0.0104,"h":0.5},{"panel":"c","series":"hf2","t":0.0111,"h":1.95},{"panel":"c","series":"hf2","t":0.0118,"h":-0.3},{"panel":"c","series":"hf2","t":0.0128,"h":1.25},{"panel":"c","series":"hf2","t":0.0136,"h":-0.3},{"panel":"c","series":"hf2","t":0.0146,"h":0.95},{"panel":"c","series":"hf2","t":0.0154,"h":-0.3},{"panel":"c","series":"hf2","t":0.0163,"h":0.8},{"panel":"c","series":"hf2","t":0.0171,"h":-0.3},{"panel":"c","series":"hf2","t":0.018,"h":0.7},{"panel":"c","series":"hf2","t":0.0188,"h":-0.3},{"panel":"c","series":"hf2","t":0.0197,"h":0.68},{"panel":"c","series":"hf2","t":0.0205,"h":-0.3},{"panel":"c","series":"hf2","t":0.0214,"h":0.66},{"panel":"c","series":"hf2","t":0.0222,"h":-0.3},{"panel":"c","series":"hf2","t":0.0231,"h":0.7},{"panel":"c","series":"hf2","t":0.0239,"h":-0.3},{"panel":"c","series":"hf2","t":0.0248,"h":0.68},{"panel":"c","series":"hf2","t":0.0256,"h":-0.3},{"panel":"c","series":"hf2","t":0.0265,"h":0.7},{"panel":"c","series":"hf2","t":0.0273,"h":-0.3},{"panel":"c","series":"hf2","t":0.0282,"h":0.62},{"panel":"c","series":"hf2","t":0.029,"h":-0.25},{"panel":"c","series":"hf2","t":0.0299,"h":0.58},{"panel":"c","series":"hf2","t":0.0307,"h":-0.2},{"panel":"c","series":"hf2","t":0.0316,"h":0.55},{"panel":"c","series":"hf2","t":0.0324,"h":-0.18},{"panel":"c","series":"hf2","t":0.0333,"h":0.5},{"panel":"c","series":"hf2","t":0.0341,"h":-0.16},{"panel":"c","series":"hf2","t":0.035,"h":0.45},{"panel":"c","series":"hf2","t":0.0358,"h":-0.15},{"panel":"c","series":"hf2","t":0.0367,"h":0.44},{"panel":"c","series":"hf2","t":0.0375,"h":-0.12},{"panel":"c","series":"hf2","t":0.0384,"h":0.42},{"panel":"c","series":"hf2","t":0.0392,"h":-0.1},{"panel":"c","series":"hf2","t":0.0401,"h":0.38},{"panel":"c","series":"hf2","t":0.0409,"h":-0.09},{"panel":"c","series":"hf2","t":0.0418,"h":0.35},{"panel":"c","series":"hf2","t":0.0426,"h":-0.08},{"panel":"c","series":"hf2","t":0.0435,"h":0.32},{"panel":"c","series":"hf2","t":0.0443,"h":-0.06},{"panel":"c","series":"hf2","t":0.0452,"h":0.3},{"panel":"c","series":"hf2","t":0.046,"h":-0.05},{"panel":"c","series":"hf2","t":0.0466,"h":0},{"panel":"c","series":"hf2","t":0.1,"h":0}
    ]
  },
  "config": {
    "font": "DejaVu Sans",
    "view": {"stroke": "#262626", "strokeWidth": 1},
    "axis": {
      "domain": false, "grid": false, "ticks": true, "tickSize": -3, "tickColor": "#262626", "tickWidth": 1,
      "labelFont": "DejaVu Sans", "labelFontSize": 17, "labelColor": "#262626", "labelFlush": false, "labelOverlap": false,
      "titleFont": "DejaVu Sans", "titleFontSize": 17, "titleFontWeight": "normal", "titleColor": "#262626"
    },
    "axisBottom": {"labelPadding": 12, "titlePadding": 6},
    "axisLeft": {"labelPadding": 7, "titlePadding": 4},
    "title": {"orient": "bottom", "anchor": "start", "frame": "group", "offset": 22, "font": "Liberation Serif", "fontSize": 25.5, "fontWeight": "normal", "color": "#000000", "baseline": "top", "lineHeight": 27}
  },
  "resolve": {"scale": {"x": "independent", "y": "independent"}},
  "bounds": "full",
  "center": true,
  "spacing": 5,
  "vconcat": [
    {
      "width": 396,
      "height": 38,
      "view": {"stroke": "#262626", "strokeWidth": 1.5, "fill": "white"},
      "data": {"name": "legend"},
      "layer": [
        {
          "mark": {"type": "point", "shape": "M-1,0.1L1,0.1", "size": 1521, "filled": false, "strokeWidth": 2.2, "opacity": 1},
          "encoding": {
            "x": {"field": "series", "type": "nominal", "scale": {"type": "point", "domain": ["hp", "he1", "he2", "hf1", "hf2"], "range": [25, 336], "padding": 0}, "axis": null},
            "color": {"field": "series", "type": "nominal", "scale": {"domain": ["hp", "he1", "he2", "hf1", "hf2"], "range": ["#000000", "#D95319", "#D95319", "#0072BD", "#0072BD"]}, "legend": null},
            "strokeDash": {"field": "series", "type": "nominal", "scale": {"domain": ["hp", "he1", "he2", "hf1", "hf2"], "range": [[1, 0], [1, 0], [6, 3], [1, 0], [6, 3]]}, "legend": null}
          }
        },
        {
          "mark": {"type": "text", "align": "left", "baseline": "alphabetic", "dx": 24, "dy": 7.5, "font": "Liberation Sans", "fontWeight": "bold", "fontSize": 20.5, "color": "#000000"},
          "encoding": {
            "x": {"field": "series", "type": "nominal", "scale": {"type": "point", "domain": ["hp", "he1", "he2", "hf1", "hf2"], "range": [25, 336], "padding": 0}, "axis": null},
            "text": {"value": "h"}
          }
        },
        {
          "mark": {"type": "text", "align": "left", "baseline": "alphabetic", "dx": 37.5, "dy": 14.5, "font": "Liberation Sans", "fontWeight": "bold", "fontSize": 13.5, "color": "#000000"},
          "encoding": {
            "x": {"field": "series", "type": "nominal", "scale": {"type": "point", "domain": ["hp", "he1", "he2", "hf1", "hf2"], "range": [25, 336], "padding": 0}, "axis": null},
            "text": {"field": "sub", "type": "nominal"}
          }
        },
        {
          "mark": {"type": "text", "align": "left", "baseline": "middle", "dx": 99, "opacity": 0, "font": "Liberation Sans", "fontSize": 20.5},
          "encoding": {
            "x": {"field": "series", "type": "nominal", "scale": {"type": "point", "domain": ["hp", "he1", "he2", "hf1", "hf2"], "range": [25, 336], "padding": 0}, "axis": null},
            "text": {"value": "h"}
          }
        }
      ]
    },
    {
      "bounds": "flush",
      "spacing": 87.5,
      "hconcat": [
        {
          "width": 298, "height": 220,
          "data": {"name": "curves"},
          "transform": [{"filter": "datum.panel === 'a'"}],
          "title": {"text": "(a) Continuous line source.", "dx": -16},
          "layer": [
            {
              "mark": {"type": "line", "clip": true, "strokeWidth": 2.2},
              "encoding": {
                "x": {"field": "t", "type": "quantitative", "scale": {"domain": [0, 0.1], "nice": false, "zero": false}, "axis": {"orient": "bottom", "values": [0, 0.05, 0.1], "format": "~g", "title": "t in s"}},
                "y": {"field": "h", "type": "quantitative", "scale": {"domain": [-0.2, 2.5], "nice": false, "zero": false}, "axis": {"orient": "left", "values": [0, 0.5, 1, 1.5, 2, 2.5], "format": "~g", "title": "h(t) (norm.)"}},
                "color": {"field": "series", "type": "nominal", "scale": {"domain": ["hp", "he1", "he2", "hf1", "hf2"], "range": ["#000000", "#D95319", "#D95319", "#0072BD", "#0072BD"]}, "legend": null},
                "strokeDash": {"field": "series", "type": "nominal", "scale": {"domain": ["hp", "he1", "he2", "hf1", "hf2"], "range": [[1, 0], [1, 0], [6, 3], [1, 0], [6, 3]]}, "legend": null}
              }
            },
            {
              "mark": {"type": "line", "opacity": 0},
              "encoding": {
                "x": {"field": "t", "type": "quantitative", "scale": {"domain": [0, 0.1], "nice": false, "zero": false}, "axis": {"orient": "top", "values": [0, 0.05, 0.1], "labels": false, "title": null}},
                "y": {"field": "h", "type": "quantitative", "scale": {"domain": [-0.2, 2.5], "nice": false, "zero": false}, "axis": {"orient": "right", "values": [0, 0.5, 1, 1.5, 2, 2.5], "labels": false, "title": null}},
                "detail": {"field": "series", "type": "nominal"}
              }
            }
          ],
          "resolve": {"axis": {"x": "independent", "y": "independent"}}
        },
        {
          "width": 298, "height": 220,
          "data": {"name": "curves"},
          "transform": [{"filter": "datum.panel === 'b'"}],
          "title": {"text": ["(b) Discrete line array, n = 500,", "\u00a0\u00a0\u00a0d\u2082 = 0.1 m."], "dx": -18},
          "layer": [
            {
              "mark": {"type": "line", "clip": true, "strokeWidth": 2.2},
              "encoding": {
                "x": {"field": "t", "type": "quantitative", "scale": {"domain": [0, 0.1], "nice": false, "zero": false}, "axis": {"orient": "bottom", "values": [0, 0.05, 0.1], "format": "~g", "title": "t in s"}},
                "y": {"field": "h", "type": "quantitative", "scale": {"domain": [-0.2, 2.5], "nice": false, "zero": false}, "axis": {"orient": "left", "values": [0, 0.5, 1, 1.5, 2, 2.5], "format": "~g", "title": "h(t) (norm.)"}},
                "color": {"field": "series", "type": "nominal", "scale": {"domain": ["hp", "he1", "he2", "hf1", "hf2"], "range": ["#000000", "#D95319", "#D95319", "#0072BD", "#0072BD"]}, "legend": null},
                "strokeDash": {"field": "series", "type": "nominal", "scale": {"domain": ["hp", "he1", "he2", "hf1", "hf2"], "range": [[1, 0], [1, 0], [6, 3], [1, 0], [6, 3]]}, "legend": null}
              }
            },
            {
              "mark": {"type": "line", "opacity": 0},
              "encoding": {
                "x": {"field": "t", "type": "quantitative", "scale": {"domain": [0, 0.1], "nice": false, "zero": false}, "axis": {"orient": "top", "values": [0, 0.05, 0.1], "labels": false, "title": null}},
                "y": {"field": "h", "type": "quantitative", "scale": {"domain": [-0.2, 2.5], "nice": false, "zero": false}, "axis": {"orient": "right", "values": [0, 0.5, 1, 1.5, 2, 2.5], "labels": false, "title": null}},
                "detail": {"field": "series", "type": "nominal"}
              }
            }
          ],
          "resolve": {"axis": {"x": "independent", "y": "independent"}}
        },
        {
          "width": 298, "height": 220,
          "data": {"name": "curves"},
          "transform": [{"filter": "datum.panel === 'c'"}],
          "title": {"text": ["(c) Discrete line array, n = \u00a050,", "\u00a0\u00a0\u00a0d\u2082 = 0.62 m."], "dx": -18},
          "layer": [
            {
              "mark": {"type": "line", "clip": true, "strokeWidth": 2.2},
              "encoding": {
                "x": {"field": "t", "type": "quantitative", "scale": {"domain": [0, 0.1], "nice": false, "zero": false}, "axis": {"orient": "bottom", "values": [0, 0.05, 0.1], "format": "~g", "title": "t in s"}},
                "y": {"field": "h", "type": "quantitative", "scale": {"domain": [-0.2, 2.5], "nice": false, "zero": false}, "axis": {"orient": "left", "values": [0, 0.5, 1, 1.5, 2, 2.5], "format": "~g", "title": "h(t) (norm.)"}},
                "color": {"field": "series", "type": "nominal", "scale": {"domain": ["hp", "he1", "he2", "hf1", "hf2"], "range": ["#000000", "#D95319", "#D95319", "#0072BD", "#0072BD"]}, "legend": null},
                "strokeDash": {"field": "series", "type": "nominal", "scale": {"domain": ["hp", "he1", "he2", "hf1", "hf2"], "range": [[1, 0], [1, 0], [6, 3], [1, 0], [6, 3]]}, "legend": null}
              }
            },
            {
              "mark": {"type": "line", "opacity": 0},
              "encoding": {
                "x": {"field": "t", "type": "quantitative", "scale": {"domain": [0, 0.1], "nice": false, "zero": false}, "axis": {"orient": "top", "values": [0, 0.05, 0.1], "labels": false, "title": null}},
                "y": {"field": "h", "type": "quantitative", "scale": {"domain": [-0.2, 2.5], "nice": false, "zero": false}, "axis": {"orient": "right", "values": [0, 0.5, 1, 1.5, 2, 2.5], "labels": false, "title": null}},
                "detail": {"field": "series", "type": "nominal"}
              }
            }
          ],
          "resolve": {"axis": {"x": "independent", "y": "independent"}}
        }
      ]
    }
  ]
}
